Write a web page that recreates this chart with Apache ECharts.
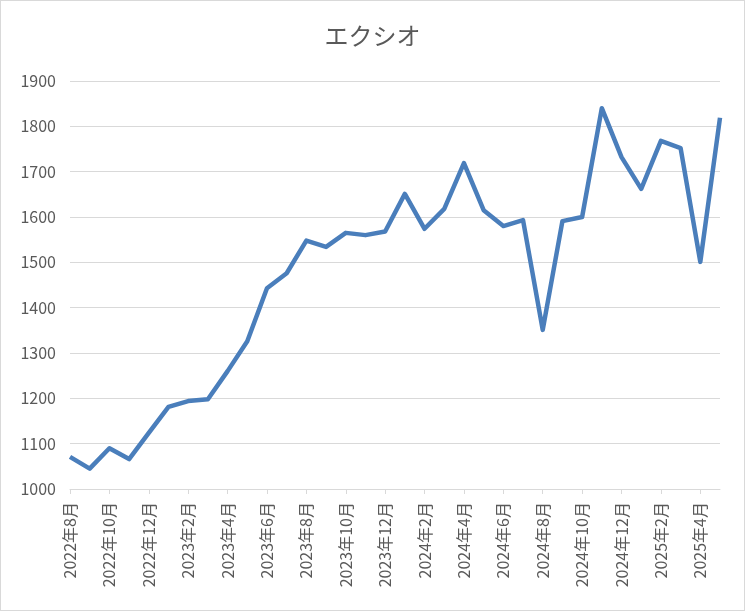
<!DOCTYPE html>
<html>
<head>
<meta charset="utf-8">
<script src="https://cdn.jsdelivr.net/npm/echarts@6/dist/echarts.min.js"></script>
<style>
html,body{margin:0;padding:0;background:#fff;}
#c{width:745px;height:611px;box-sizing:border-box;border:1px solid #d9d9d9;}
</style>
</head>
<body>
<div id="c"></div>
<script>
const title = 'エクシオ';
const months = [
 '2022年8月','2022年9月','2022年10月','2022年11月','2022年12月',
 '2023年1月','2023年2月','2023年3月','2023年4月','2023年5月','2023年6月','2023年7月','2023年8月','2023年9月','2023年10月','2023年11月','2023年12月',
 '2024年1月','2024年2月','2024年3月','2024年4月','2024年5月','2024年6月','2024年7月','2024年8月','2024年9月','2024年10月','2024年11月','2024年12月',
 '2025年1月','2025年2月','2025年3月','2025年4月','2025年5月'
];
const values = [
 1071,1045,1090,1066,1124,
 1181,1194,1198,1260,1326,1443,1476,1548,1534,1565,1560,1568,
 1651,1574,1618,1719,1615,1580,1593,1351,1591,1600,1840,1732,
 1662,1768,1752,1501,1819
];
const yMin = 1000, yMax = 1900, yStep = 100;

const chart = echarts.init(document.getElementById('c'), null, {renderer:'canvas'});
const font = '"Noto Sans CJK JP", "Noto Sans", sans-serif';
chart.setOption({
  animation:false,
  backgroundColor:'#fff',
  title:{
    text:title, left:'center', top:18,
    textStyle:{fontFamily:font, fontSize:24, fontWeight:'normal', color:'#595959'}
  },
  grid:{left:69, right:24, top:80, bottom:121, containLabel:false},
  xAxis:{
    type:'category', data:months, boundaryGap:false,
    axisLine:{lineStyle:{color:'#d9d9d9', width:1}},
    axisTick:{show:true, interval:1, length:5, lineStyle:{color:'#d9d9d9'}},
    axisLabel:{interval:1, rotate:90, margin:13, fontFamily:font, fontSize:16, color:'#595959'},
    splitLine:{show:false}
  },
  yAxis:{
    type:'value', min:yMin, max:yMax, interval:yStep,
    axisLine:{show:false}, axisTick:{show:false},
    axisLabel:{fontFamily:font, fontSize:16, color:'#595959', margin:14, formatter:v => String(v)},
    splitLine:{lineStyle:{color:'#d9d9d9', width:1}}
  },
  series:[{
    type:'line', data:values, showSymbol:false, symbol:'none',
    lineStyle:{color:'#4a7ebb', width:4.5, join:'round'}
  }]
});
</script>
</body>
</html>
